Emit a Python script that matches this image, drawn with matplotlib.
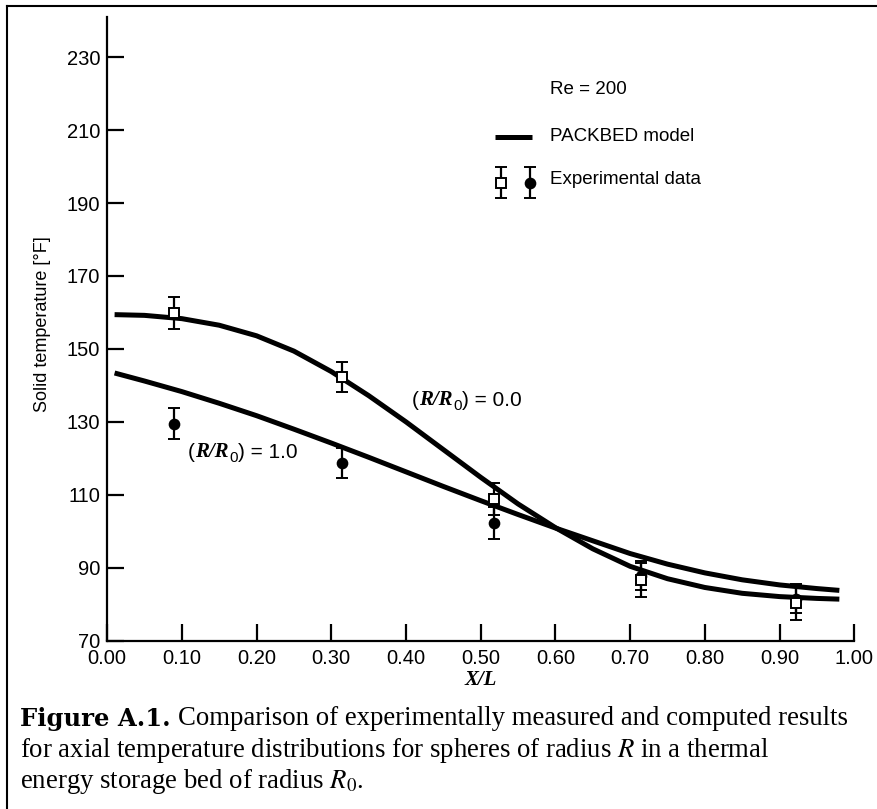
import matplotlib.pyplot as plt
from matplotlib.lines import Line2D

plt.rcParams['font.family'] = ['Liberation Sans', 'DejaVu Sans']
plt.rcParams['mathtext.fontset'] = 'stix'

# PACKBED model curves
x_model = [0.01, 0.05, 0.10, 0.15, 0.20, 0.25, 0.30, 0.35, 0.40, 0.45, 0.50,
           0.55, 0.60, 0.65, 0.70, 0.75, 0.80, 0.85, 0.90, 0.95, 0.98]
t_model_r00 = [159.4, 159.2, 158.3, 156.5, 153.6, 149.4, 143.8, 137.2, 130.0, 122.4,
               114.8, 107.5, 101.0, 95.2, 90.4, 87.0, 84.6, 83.0, 82.1, 81.6, 81.4]
t_model_r10 = [143.4, 141.2, 138.3, 135.1, 131.7, 128.0, 124.2, 120.3, 116.3, 112.3,
               108.4, 104.6, 100.9, 97.4, 93.9, 91.0, 88.6, 86.7, 85.3, 84.3, 83.8]

# experimental data (squares: R/R0 = 0.0, dots: R/R0 = 1.0)
x_exp = [0.09, 0.315, 0.518, 0.714, 0.922]
t_exp_r00 = [159.8, 142.3, 108.9, 86.7, 80.4]
err_r00 = [4.3, 4.2, 4.4, 4.6, 4.6]
t_exp_r10 = [129.5, 118.8, 102.3, 87.8, 81.5]
err_r10 = [4.2, 4.1, 4.4, 4.0, 4.0]

xticks = [0.0, 0.1, 0.2, 0.3, 0.4, 0.5, 0.6, 0.7, 0.8, 0.9, 1.0]
yticks = [70, 90, 110, 130, 150, 170, 190, 210, 230]

fig = plt.figure(figsize=(8.78, 8.09), dpi=100)
ax = fig.add_axes([0.122, 0.208, 0.851, 0.771])

# model lines
ax.plot(x_model, t_model_r00, color='black', lw=3.6, solid_capstyle='butt',
        solid_joinstyle='round', zorder=2)
ax.plot(x_model, t_model_r10, color='black', lw=3.6, solid_capstyle='butt',
        solid_joinstyle='round', zorder=2)

# data points with error bars
eb = dict(ecolor='black', elinewidth=1.6, capsize=4.5, capthick=1.6, ms=7, mec='black', mew=1.4, zorder=3)
ax.errorbar(x_exp, t_exp_r10, yerr=err_r10, fmt='o', mfc='black', **eb)
ax.errorbar(x_exp, t_exp_r00, yerr=err_r00, fmt='s', mfc='white', **eb)

# axes styling
ax.set_xlim(0, 1.0)
ax.set_ylim(70, 241)
ax.set_xticks(xticks)
ax.set_xticklabels([f'{v:.2f}' for v in xticks])
ax.set_yticks(yticks)
for s in ['top', 'right']:
    ax.spines[s].set_visible(False)
for s in ['left', 'bottom']:
    ax.spines[s].set_linewidth(1.6)
ax.tick_params(direction='in', length=12, width=1.6, labelsize=14.5, colors='black')
ax.tick_params(axis='x', pad=6)
ax.tick_params(axis='y', pad=5)

ax.set_ylabel('Solid temperature [°F]', fontsize=13, va='center')
ax.yaxis.set_label_coords(-0.087, 0.508)
ax.set_xlabel('X/L', fontsize=15, family='Liberation Serif', style='italic',
              weight='bold', va='center')
ax.xaxis.set_label_coords(0.50, -0.0625)

# legend drawn by hand, as in the original
ax.text(0.593, 0.883, 'Re = 200', transform=ax.transAxes, va='center', fontsize=13.5)
ax.plot([0.519, 0.569], [0.808, 0.808], transform=ax.transAxes, color='black', lw=3.6,
        solid_capstyle='butt')
ax.text(0.593, 0.809, 'PACKBED model', transform=ax.transAxes, va='center', fontsize=13.5)
ax.errorbar([0.527], [195.6], yerr=[4.2], fmt='s', mfc='white', **eb)
ax.errorbar([0.566], [195.6], yerr=[4.2], fmt='o', mfc='black', **eb)
ax.text(0.593, 0.739, 'Experimental data', transform=ax.transAxes, va='center', fontsize=13.5)


def ratio_label(x, y, value):
    # "(R/R0) = value" with serif bold italic R/R and a subscript 0
    t1 = ax.text(x, y, '(', fontsize=15, va='center')
    t2 = ax.annotate('R/R', xy=(1, 0), xycoords=t1, va='bottom', fontsize=15,
                     family='Liberation Serif', style='italic', weight='bold')
    t3 = ax.annotate('0', xy=(1, 0), xycoords=t2, xytext=(0.5, -2), textcoords='offset points',
                     va='bottom', fontsize=11)
    ax.annotate(') = ' + value, xy=(1, 0), xycoords=(t3, t2), va='bottom', fontsize=15)


ratio_label(0.408, 135.8, '0.0')
ratio_label(0.108, 121.5, '1.0')

# caption below the plot
cap_size = 19.3
cap = fig.text(0.023, 0.1026, 'Figure A.1.', fontsize=17.5, family='DejaVu Serif',
               weight='bold', va='baseline')
ax.annotate('Comparison of experimentally measured and computed results',
            xy=(1, 0), xycoords=cap, xytext=(5, 0), textcoords='offset points',
            va='bottom', fontsize=cap_size, family='Liberation Serif', annotation_clip=False)
fig.text(0.023, 0.0643, r'for axial temperature distributions for spheres of radius $R$ in a thermal',
         fontsize=cap_size, family='Liberation Serif', va='baseline')
fig.text(0.023, 0.026, r'energy storage bed of radius $R_0$.',
         fontsize=cap_size, family='Liberation Serif', va='baseline')

# scan frame on the left and top
fig.add_artist(Line2D([0.008, 0.008], [0, 0.9926], color='black', lw=1.5))
fig.add_artist(Line2D([0.008, 1.0], [0.9926, 0.9926], color='black', lw=1.5))

fig.savefig('out.png', dpi=100)
